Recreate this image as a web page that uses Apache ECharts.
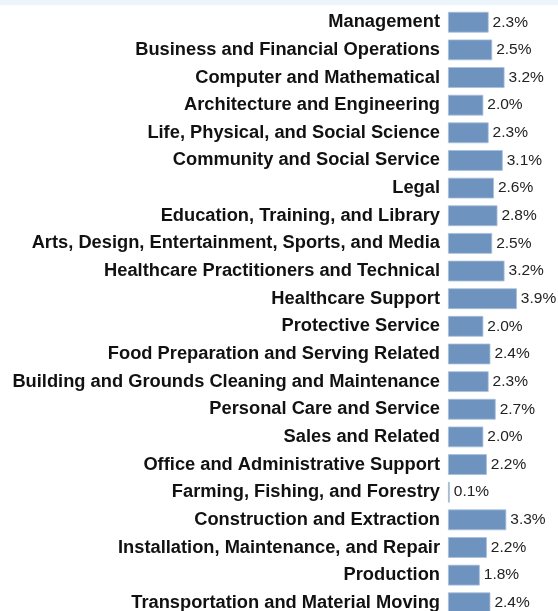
<!DOCTYPE html>
<html><head><meta charset="utf-8">
<script src="https://cdn.jsdelivr.net/npm/echarts@6/dist/echarts.min.js"></script>
<style>html,body{margin:0;padding:0;overflow:hidden;background:#fff}#c{width:558px;height:620px}</style>
</head><body><div id="c"></div>
<script>
const categories = ["Management","Business and Financial Operations","Computer and Mathematical","Architecture and Engineering","Life, Physical, and Social Science","Community and Social Service","Legal","Education, Training, and Library","Arts, Design, Entertainment, Sports, and Media","Healthcare Practitioners and Technical","Healthcare Support","Protective Service","Food Preparation and Serving Related","Building and Grounds Cleaning and Maintenance","Personal Care and Service","Sales and Related","Office and Administrative Support","Farming, Fishing, and Forestry","Construction and Extraction","Installation, Maintenance, and Repair","Production","Transportation and Material Moving"];
const values = [2.3,2.5,3.2,2.0,2.3,3.1,2.6,2.8,2.5,3.2,3.9,2.0,2.4,2.3,2.7,2.0,2.2,0.1,3.3,2.2,1.8,2.4];

const chart = echarts.init(document.getElementById('c'), null, {renderer:'canvas'});
chart.setOption({
  animation:false,
  backgroundColor:'#ffffff',
  graphic:[{type:'rect',shape:{x:0,y:0,width:558,height:5},style:{fill:'#edf5fc'},silent:true}],
  grid:{left:448,right:21.7,top:8.4,bottom:3.4,containLabel:false},
  xAxis:{type:'value',min:0,max:5,show:false},
  yAxis:{type:'category',data:categories,inverse:true,
    axisLine:{show:false},axisTick:{show:false},splitLine:{show:false},
    axisLabel:{margin:8,color:'#111',fontFamily:'Liberation Sans, Arial, sans-serif',fontWeight:'bold',fontSize:18.3}},
  series:[{type:'bar',data:values,barCategoryGap:'25%',
    itemStyle:{color:'#6f93bf',borderColor:'#a8bfd9',borderWidth:0.8},
    label:{show:true,position:'right',distance:4,color:'#222',fontFamily:'Liberation Sans, Arial, sans-serif',fontSize:15.5,
      formatter:p=>p.value.toFixed(1)+'%'}}]
});
</script></body></html>
